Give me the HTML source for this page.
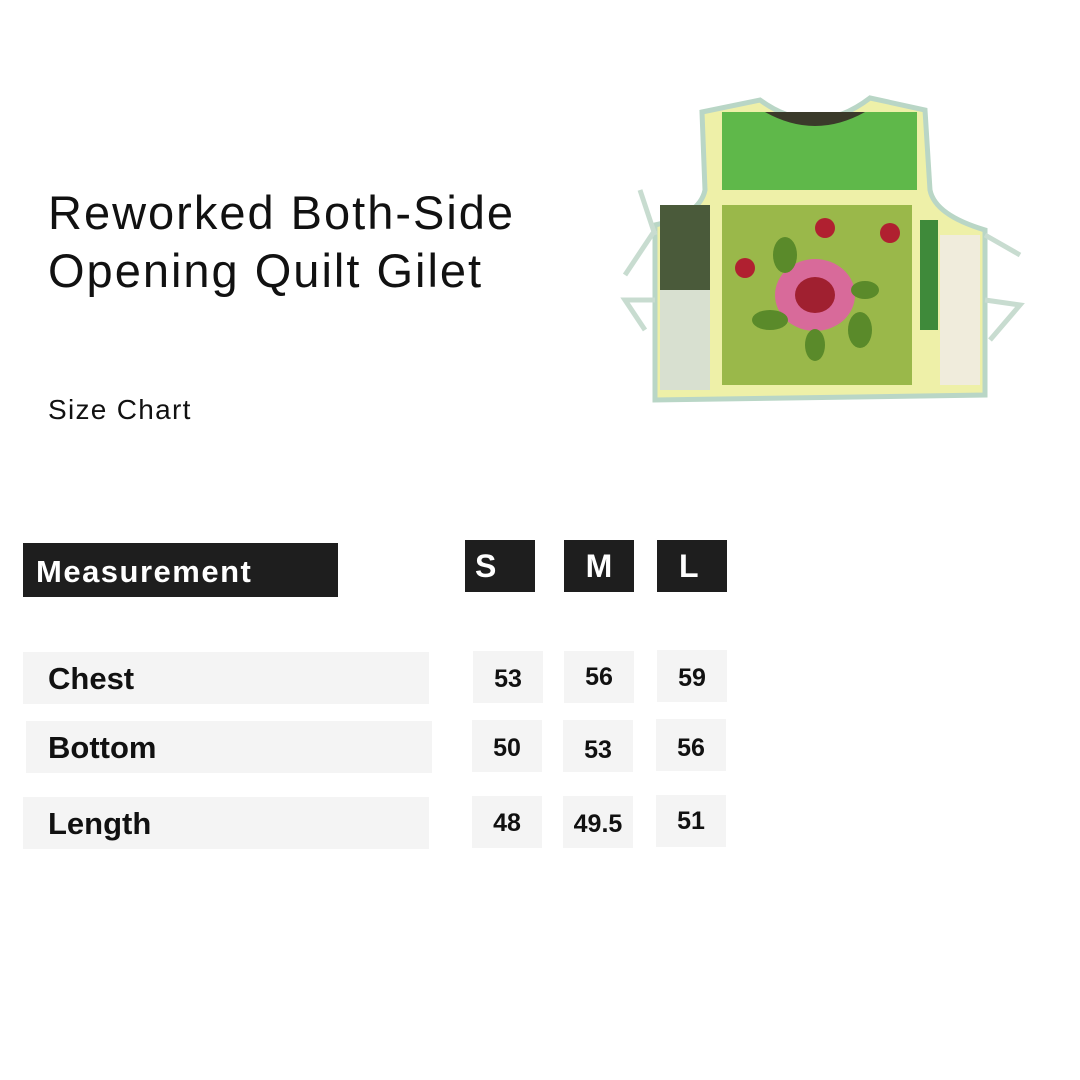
<!DOCTYPE html>
<html><head><style>
body{margin:0;width:1080px;height:1080px;background:#fff;position:relative;overflow:hidden;font-family:"Liberation Sans",sans-serif}
.a{position:absolute}
.k{background:#1e1e1e;color:#fff;font-weight:bold}
.g{background:#f4f4f4;color:#111;font-weight:bold}
.c{text-align:center;font-size:25px}
</style></head><body>
<div class="a" style="left:48px;top:184px;font-size:47px;line-height:58px;color:#111;letter-spacing:2px">Reworked Both-Side<br>Opening Quilt Gilet</div>
<div class="a" style="left:48px;top:394px;font-size:28px;color:#111;letter-spacing:1.3px">Size Chart</div>

<svg class="a" style="left:600px;top:90px" width="440" height="320" viewBox="600 90 440 320">
<path d="M702 112 L760 100 Q815 140 870 98 L925 110 L930 190 Q935 215 985 230 L985 395 L655 400 L655 225 Q700 215 705 190 Z" fill="#eef0a8" stroke="#b9d6c6" stroke-width="5"/>
<rect x="722" y="112" width="195" height="78" fill="#5fb84a"/>
<path d="M765 112 Q815 140 865 112 Z" fill="#3a3a2a"/>
<rect x="722" y="205" width="190" height="180" fill="#9ab84a"/>
<rect x="660" y="205" width="50" height="90" fill="#4a5a3a"/>
<rect x="660" y="290" width="50" height="100" fill="#d8e0d0"/>
<rect x="920" y="220" width="18" height="110" fill="#3f8a3a"/>
<rect x="940" y="235" width="40" height="150" fill="#f0ecdc"/>
<ellipse cx="815" cy="295" rx="40" ry="36" fill="#d86a9a"/>
<ellipse cx="815" cy="295" rx="20" ry="18" fill="#a02030"/>
<g fill="#5a8a2a"><ellipse cx="785" cy="255" rx="12" ry="18"/><ellipse cx="860" cy="330" rx="12" ry="18"/><ellipse cx="770" cy="320" rx="18" ry="10"/><ellipse cx="815" cy="345" rx="10" ry="16"/><ellipse cx="865" cy="290" rx="14" ry="9"/></g>
<g fill="#b02030"><circle cx="825" cy="228" r="10"/><circle cx="890" cy="233" r="10"/><circle cx="745" cy="268" r="10"/></g>
<g stroke="#c8dcd0" stroke-width="5" fill="none"><path d="M655 230 L625 275 M655 235 L640 190 M655 300 L625 300 L645 330 M985 235 L1020 255 M985 300 L1020 305 L990 340"/></g>
</svg>

<div class="a k" style="left:23px;top:543px;width:315px;height:54px"><span class="a" style="left:13px;top:11px;font-size:31px;letter-spacing:1.5px">Measurement</span></div>
<div class="a k" style="left:465px;top:540px;width:70px;height:52px"><span class="a" style="left:10px;top:8px;font-size:32px">S</span></div>
<div class="a k c" style="left:564px;top:540px;width:70px;height:52px;line-height:52px;font-size:32px">M</div>
<div class="a k" style="left:657px;top:540px;width:70px;height:52px"><span class="a" style="left:22px;top:8px;font-size:32px">L</span></div>

<div class="a g" style="left:23px;top:652px;width:406px;height:52px"><span class="a" style="left:25px;top:9px;font-size:31px">Chest</span></div>
<div class="a g" style="left:26px;top:721px;width:406px;height:52px"><span class="a" style="left:22px;top:9px;font-size:31px">Bottom</span></div>
<div class="a g" style="left:23px;top:797px;width:406px;height:52px"><span class="a" style="left:25px;top:9px;font-size:31px">Length</span></div>

<div class="a g c" style="left:473px;top:651px;width:70px;height:52px;line-height:56px">53</div>
<div class="a g c" style="left:564px;top:651px;width:70px;height:52px;line-height:52px">56</div>
<div class="a g c" style="left:657px;top:650px;width:70px;height:52px;line-height:56px">59</div>
<div class="a g c" style="left:472px;top:720px;width:70px;height:52px;line-height:56px">50</div>
<div class="a g c" style="left:563px;top:720px;width:70px;height:52px;line-height:60px">53</div>
<div class="a g c" style="left:656px;top:719px;width:70px;height:52px;line-height:58px">56</div>
<div class="a g c" style="left:472px;top:796px;width:70px;height:52px;line-height:54px">48</div>
<div class="a g c" style="left:563px;top:796px;width:70px;height:52px;line-height:56px">49.5</div>
<div class="a g c" style="left:656px;top:795px;width:70px;height:52px;line-height:52px">51</div>
</body></html>
